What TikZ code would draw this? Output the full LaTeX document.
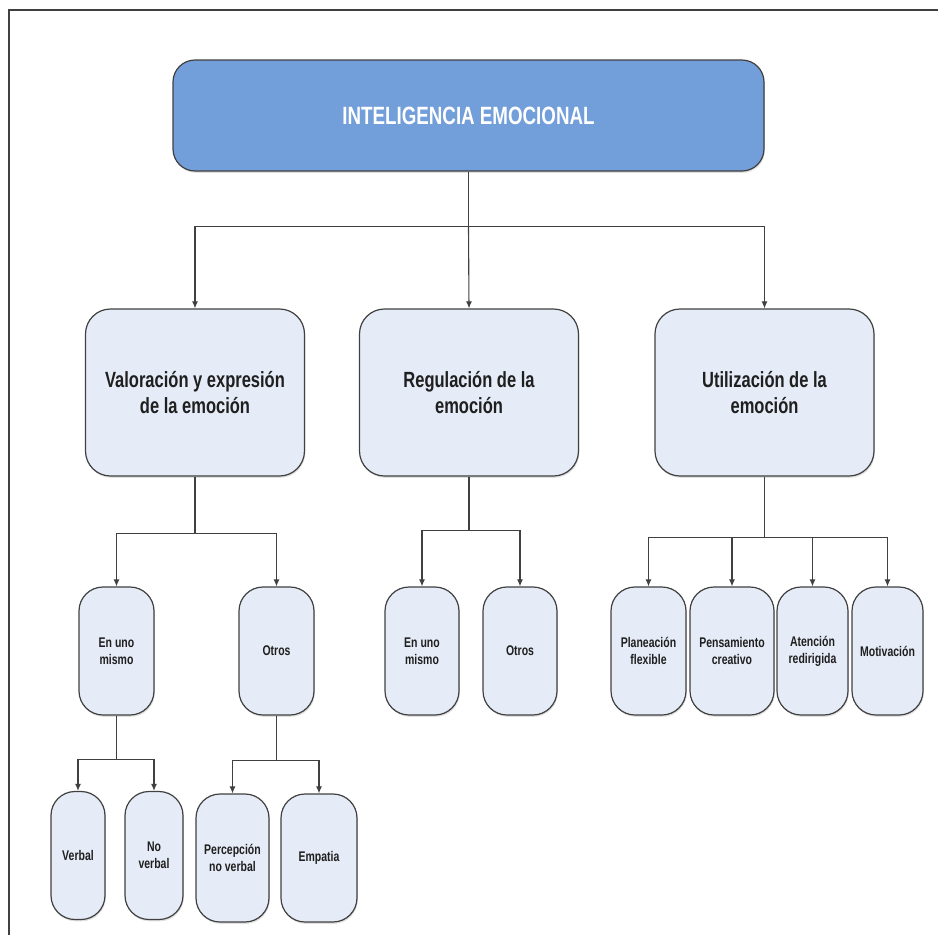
\documentclass[tikz,border=0pt]{standalone}
\usepackage{fontspec}
\newfontfamily\boxfont[FakeStretch=0.75]{Liberation Sans}
\usetikzlibrary{arrows.meta,shadows}
\definecolor{topblue}{RGB}{114,158,218}
\definecolor{boxfill}{RGB}{230,236,247}
\definecolor{edge}{RGB}{64,64,64}

\begin{document}
\begin{tikzpicture}[x=1pt,y=-1pt,
	box/.style={draw=edge, line width=1.2pt, fill=boxfill, rounded corners=22pt, align=center, inner sep=0pt,
		text=black!88, drop shadow={opacity=0.25, shadow xshift=0.8pt, shadow yshift=-1.8pt}},
	big/.style={box, minimum width=219pt, minimum height=167pt, rounded corners=25pt,
		font=\boxfont\bfseries\fontsize{22}{26}\selectfont},
	small/.style={box, minimum height=128pt, rounded corners=24pt, font=\boxfont\bfseries\fontsize{14}{17}\selectfont},
	trunk/.style={draw=edge, line width=1.1pt},
	link/.style={trunk, -{Latex[length=7pt,width=6pt]}}
]
	\useasboundingbox (0,0) rectangle (938,935);
	\draw[edge, line width=1.5pt] (9,935) -- (9,10) -- (938,10);

	\draw (468.5,115.5) node[box, fill=topblue, text=white, minimum width=591pt, minimum height=111pt,
		font=\boxfont\bfseries\fontsize{25}{30}\selectfont] (ie) {INTELIGENCIA EMOCIONAL};

	\draw (195,392.5) node[big] (val) {Valoración y expresión\\de la emoción};
	\draw (469,392.5) node[big] (reg) {Regulación de la\\emoción};
	\draw (764.5,392.5) node[big] (uti) {Utilización de la\\emoción};

	\draw (116.5,651) node[small, minimum width=75pt] (euv) {En uno\\mismo};
	\draw (276.5,651) node[small, minimum width=75pt] (otv) {Otros};
	\draw (422,651) node[small, minimum width=74pt] (eur) {En uno\\mismo};
	\draw (520,651) node[small, minimum width=74pt] (otr) {Otros};

	\draw (648.5,651) node[small, minimum width=75pt] (pla) {Planeación\\flexible};
	\draw (732,651) node[small, minimum width=84pt] (pen) {Pensamiento\\creativo};
	\draw (812.5,651) node[small, minimum width=71pt] (ate) {Atención\\redirigida};
	\draw (887.5,651) node[small, minimum width=71pt] (mot) {Motivación};

	\draw (78,855.5) node[small, minimum width=54pt] (ver) {Verbal};
	\draw (154,855.5) node[small, minimum width=58pt] (nov) {No\\verbal};
	\draw (232.5,858) node[small, minimum width=73pt] (per) {Percepción\\no verbal};
	\draw (319,858) node[small, minimum width=76pt] (emp) {Empatia};

	\draw[trunk] (ie.south) -- ++(0,55) coordinate (j0);
	\draw[link] (j0) -| (val.north);
	\draw[link] (j0) -- (reg.north);
	\draw[link] (j0) -| (uti.north);

	\draw[trunk] (val.south) -- ++(0,57) coordinate (j1);
	\draw[link] (j1) -| (euv.north);
	\draw[link] (j1) -| (otv.north);
	\draw[trunk] (reg.south) -- ++(0,54) coordinate (j2);
	\draw[link] (j2) -| (eur.north);
	\draw[link] (j2) -| (otr.north);
	\draw[trunk] (uti.south) -- ++(0,61) coordinate (j3);
	\draw[link] (j3) -| (pla.north);
	\draw[link] (j3) -| (pen.north);
	\draw[link] (j3) -| (ate.north);
	\draw[link] (j3) -| (mot.north);

	\draw[trunk] (euv.south) -- ++(0,44) coordinate (j4);
	\draw[link] (j4) -| (ver.north);
	\draw[link] (j4) -| (nov.north);
	\draw[trunk] (otv.south) -- ++(0,45) coordinate (j5);
	\draw[link] (j5) -| (per.north);
	\draw[link] (j5) -| (emp.north);
\end{tikzpicture}
\end{document}
